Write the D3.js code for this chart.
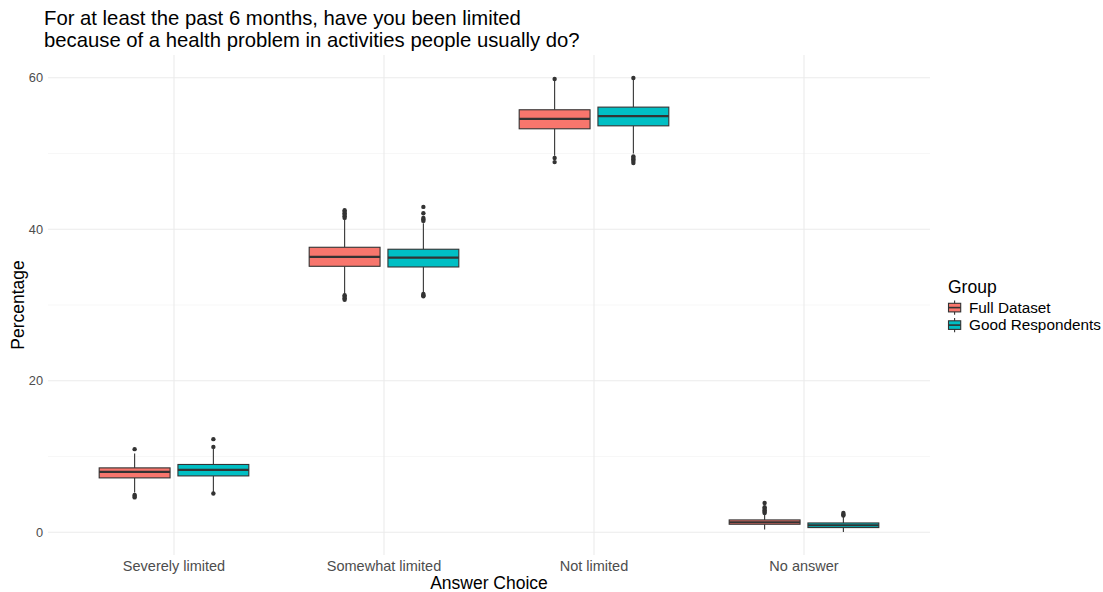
<!DOCTYPE html>
<html>
<head>
<meta charset="utf-8">
<script src="https://cdn.jsdelivr.net/npm/d3@7"></script>
<style>
  html, body { margin: 0; padding: 0; background: #fff; }
  text { font-family: "Liberation Sans", Arial, sans-serif; }
</style>
</head>
<body>
<svg id="chart" width="1103" height="592"></svg>
<script>
// Answer categories on the x axis
const categories = ["Severely limited", "Somewhat limited", "Not limited", "No answer"];
const groups = ["Full Dataset", "Good Respondents"];
const groupColors = ["#F8766D", "#00BFC4"];

// Box summaries per category: [lower whisker, Q1, median, Q3, upper whisker]
const fullStats = [
  [5.25, 7.18, 7.97, 8.50, 10.4],
  [31.4, 35.11, 36.34, 37.62, 41.3],
  [49.7, 53.26, 54.58, 55.77, 59.6],
  [0.36, 1.06, 1.32, 1.63, 2.45]
];
const goodStats = [
  [5.3, 7.44, 8.23, 8.95, 11.0],
  [31.55, 35.02, 36.25, 37.36, 40.8],
  [50.0, 53.65, 54.93, 56.12, 59.8],
  [0.04, 0.62, 0.93, 1.23, 2.1]
];

// Outlying points per category
const fullOutliers = [
  [10.97, 4.93, 4.8, 4.6],
  [41.5, 41.7, 41.9, 42.1, 42.3, 42.5, 31.3, 31.1, 30.9, 30.7],
  [59.83, 49.4, 48.86],
  [3.87, 3.3, 3.1, 2.9, 2.7, 2.55]
];
const goodOutliers = [
  [11.27, 12.29, 5.11],
  [41.1, 41.3, 41.5, 42.12, 42.95, 31.45, 31.3, 31.15],
  [59.96, 49.6, 49.4, 49.2, 49.0, 48.75],
  [2.2, 2.35, 2.55]
];

const yTicks = [0, 20, 40, 60];
const yMinorTicks = [10, 30, 50];

const titleLines = [
  "For at least the past 6 months, have you been limited",
  "because of a health problem in activities people usually do?"
];

const svg = d3.select("#chart");
const panel = { left: 48, right: 930, top: 55, bottom: 555 };

const x = d3.scalePoint().domain(categories).range([panel.left, panel.right]).padding(0.6);
const y = d3.scaleLinear().domain([-3, 63]).range([panel.bottom, panel.top]);

const step = x.step();
const dodge = d3.scaleBand().domain(groups).range([-0.375 * step, 0.375 * step]);
const boxW = dodge.bandwidth() * 0.9;

// Grid lines
const grid = svg.append("g");
grid.selectAll(".minor").data(yMinorTicks).join("line")
  .attr("x1", panel.left).attr("x2", panel.right)
  .attr("y1", d => y(d)).attr("y2", d => y(d))
  .attr("stroke", "#f2f2f2").attr("stroke-width", 0.6);
grid.selectAll(".major").data(yTicks).join("line")
  .attr("x1", panel.left).attr("x2", panel.right)
  .attr("y1", d => y(d)).attr("y2", d => y(d))
  .attr("stroke", "#ebebeb").attr("stroke-width", 1.1);
grid.selectAll(".vmajor").data(categories).join("line")
  .attr("x1", d => x(d)).attr("x2", d => x(d))
  .attr("y1", panel.top).attr("y2", panel.bottom)
  .attr("stroke", "#ebebeb").attr("stroke-width", 1.1);

// Boxplots
const series = [
  { name: groups[0], color: groupColors[0], stats: fullStats, outliers: fullOutliers },
  { name: groups[1], color: groupColors[1], stats: goodStats, outliers: goodOutliers }
];
const stroke = "#333333";

series.forEach(s => {
  const g = svg.append("g");
  categories.forEach((cat, i) => {
    const cx = x(cat) + dodge(s.name) + dodge.bandwidth() / 2;
    const [lo, q1, med, q3, hi] = s.stats[i];
    g.append("line").attr("x1", cx).attr("x2", cx)
      .attr("y1", y(q3)).attr("y2", y(hi)).attr("stroke", stroke).attr("stroke-width", 1.1);
    g.append("line").attr("x1", cx).attr("x2", cx)
      .attr("y1", y(q1)).attr("y2", y(lo)).attr("stroke", stroke).attr("stroke-width", 1.1);
    g.append("rect")
      .attr("x", cx - boxW / 2).attr("width", boxW)
      .attr("y", y(q3)).attr("height", y(q1) - y(q3))
      .attr("fill", s.color).attr("stroke", stroke).attr("stroke-width", 1.1);
    g.append("line").attr("x1", cx - boxW / 2).attr("x2", cx + boxW / 2)
      .attr("y1", y(med)).attr("y2", y(med)).attr("stroke", stroke).attr("stroke-width", 2.2);
    g.selectAll(null).data(s.outliers[i]).join("circle")
      .attr("cx", cx).attr("cy", d => y(d)).attr("r", 2.2).attr("fill", stroke);
  });
});

// Axes labels
const tickColor = "#4d4d4d";
svg.append("g").selectAll("text").data(yTicks).join("text")
  .attr("x", 43).attr("y", d => y(d)).attr("dy", "0.35em")
  .attr("text-anchor", "end").attr("fill", tickColor).attr("font-size", 12.8)
  .text(d => d);
svg.append("g").selectAll("text").data(categories).join("text")
  .attr("x", d => x(d)).attr("y", 571)
  .attr("text-anchor", "middle").attr("fill", tickColor).attr("font-size", 14.5)
  .text(d => d);

svg.append("text").attr("x", (panel.left + panel.right) / 2).attr("y", 589)
  .attr("text-anchor", "middle").attr("font-size", 17.5).attr("fill", "#000")
  .text("Answer Choice");
svg.append("text").attr("transform", `translate(24,${(panel.top + panel.bottom) / 2}) rotate(-90)`)
  .attr("text-anchor", "middle").attr("font-size", 17.5).attr("fill", "#000")
  .text("Percentage");

// Title
svg.append("g").selectAll("text").data(titleLines).join("text")
  .attr("x", 44).attr("y", (d, i) => 25 + i * 22)
  .attr("font-size", 20.3).attr("fill", "#000")
  .text(d => d);

// Legend
const legend = svg.append("g").attr("transform", "translate(946,0)");
legend.append("text").attr("x", 2).attr("y", 293).attr("font-size", 17.5).attr("fill", "#000").text("Group");
series.forEach((s, i) => {
  const ky = 299 + i * 17.5;
  const kg = legend.append("g").attr("transform", `translate(0,${ky})`);
  kg.append("line").attr("x1", 8.6).attr("x2", 8.6).attr("y1", 1.5).attr("y2", 15.8)
    .attr("stroke", stroke).attr("stroke-width", 1.1);
  kg.append("rect").attr("x", 2.5).attr("y", 4.3).attr("width", 12.2).attr("height", 8.6)
    .attr("fill", s.color).attr("stroke", stroke).attr("stroke-width", 1.1);
  kg.append("line").attr("x1", 2.5).attr("x2", 14.7).attr("y1", 8.6).attr("y2", 8.6)
    .attr("stroke", stroke).attr("stroke-width", 1.6);
  kg.append("text").attr("x", 23).attr("y", 8.6).attr("dy", "0.35em")
    .attr("font-size", 15.3).attr("fill", "#000").text(s.name);
});
</script>
</body>
</html>
